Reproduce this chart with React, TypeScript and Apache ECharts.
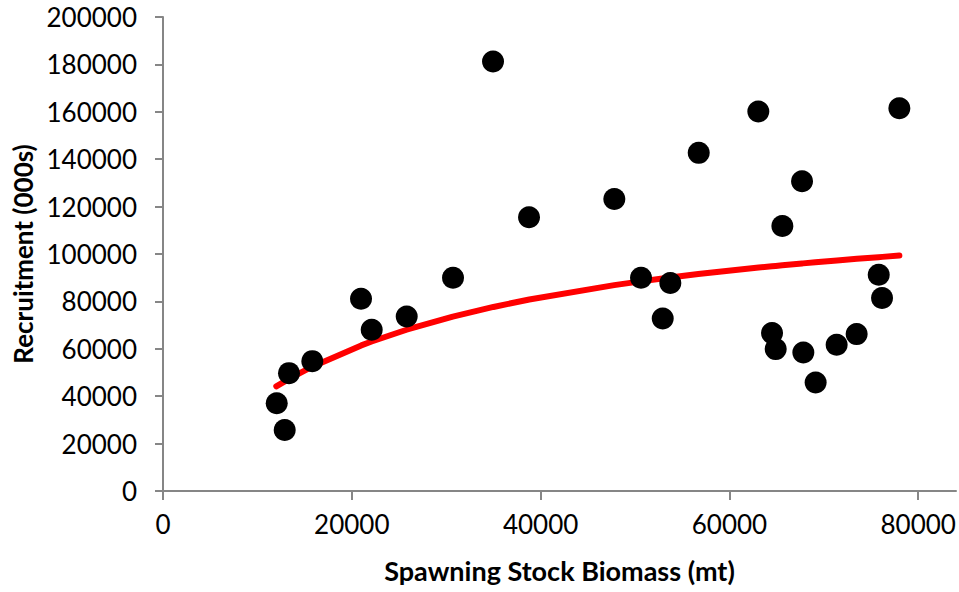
import React, { useEffect, useRef } from "react";
import * as echarts from "echarts";

// Observed spawning stock biomass (mt) and recruitment (000s)
const ssb = [
  12045, 12892, 13347, 15816, 20975, 22108, 25815, 30720, 34958, 38771,
  47808, 50636, 52934, 53740, 56748, 63061, 78000, 67691, 65606, 75816,
  76165, 64513, 64901, 67829, 73476, 71357, 69132,
];
const recruitment = [
  37050, 25771, 49726, 54795, 81116, 68018, 73637, 89988, 181243, 115466,
  123231, 89988, 72791, 87735, 142670, 160118, 161526, 130679, 111834, 91256,
  81404, 66624, 59866, 58437, 66202, 61682, 45754,
];

// Fitted stock-recruitment curve
const fitSsb = [
  12000, 12900, 13350, 15800, 21000, 22100, 25800, 30700, 35000, 38800,
  47800, 50600, 52900, 53700, 56700, 63100, 64500, 64900, 65600, 67700,
  67800, 69100, 71400, 73500, 75800, 76200, 78000,
];
const fitRecruitment = [
  44160, 46280, 47300, 52440, 61440, 63080, 68050, 73580, 77660, 80790,
  86860, 88440, 89660, 90060, 91520, 94270, 94820, 94970, 95220, 96000,
  96040, 96500, 97280, 97960, 98670, 98790, 99320,
];

const xTicks = [0, 20000, 40000, 60000, 80000];

export default function App() {
  const ref = useRef<HTMLDivElement>(null);
  useEffect(() => {
    if (!ref.current) return;
    const chart = echarts.init(ref.current, null, { renderer: "svg" });
    const axisColor = "#868686";
    const font = "Lato, 'Open Sans', sans-serif";
    chart.setOption({
      animation: false,
      backgroundColor: "#ffffff",
      grid: { left: 163, right: 3, top: 17, bottom: 101, containLabel: false },
      xAxis: {
        type: "value",
        min: 0,
        max: 84000,
        interval: 20000,
        name: "Spawning Stock Biomass (mt)",
        nameLocation: "middle",
        nameGap: 66,
        nameTextStyle: {
          fontFamily: font,
          fontWeight: "bold",
          fontSize: 27,
          color: "#000",
        },
        splitLine: { show: false },
        axisLine: { show: true, onZero: false, lineStyle: { color: axisColor, width: 2 } },
        axisTick: {
          show: true,
          inside: false,
          length: 9,
          customValues: xTicks,
          lineStyle: { color: axisColor, width: 2 },
        },
        axisLabel: {
          customValues: xTicks,
          margin: 20,
          fontFamily: font,
          fontSize: 26,
          color: "#000",
          formatter: (v: number) => String(v),
        },
      },
      yAxis: {
        type: "value",
        min: 0,
        max: 200000,
        interval: 20000,
        name: "Recruitment (000s)",
        nameLocation: "middle",
        nameGap: 126,
        nameRotate: 90,
        nameTextStyle: {
          fontFamily: font,
          fontWeight: "bold",
          fontSize: 26,
          color: "#000",
        },
        splitLine: { show: false },
        axisLine: { show: true, lineStyle: { color: axisColor, width: 2 } },
        axisTick: { show: true, length: 8, lineStyle: { color: axisColor, width: 2 } },
        axisLabel: {
          margin: 26,
          fontFamily: font,
          fontSize: 26,
          color: "#000",
          formatter: (v: number) => String(v),
        },
      },
      series: [
        {
          type: "line",
          data: fitSsb.map((x, i) => [x, fitRecruitment[i]]),
          showSymbol: false,
          symbol: "none",
          lineStyle: { color: "#ff0000", width: 6, cap: "round", join: "round" },
          z: 1,
        },
        {
          type: "scatter",
          data: ssb.map((x, i) => [x, recruitment[i]]),
          symbol: "circle",
          symbolSize: 22,
          itemStyle: { color: "#000000", opacity: 1 },
          z: 2,
        },
      ],
    });
    return () => chart.dispose();
  }, []);
  return (
    <div
      ref={ref}
      style={{ position: "fixed", left: 0, top: 0, width: 959, height: 592, background: "#fff" }}
    />
  );
}
